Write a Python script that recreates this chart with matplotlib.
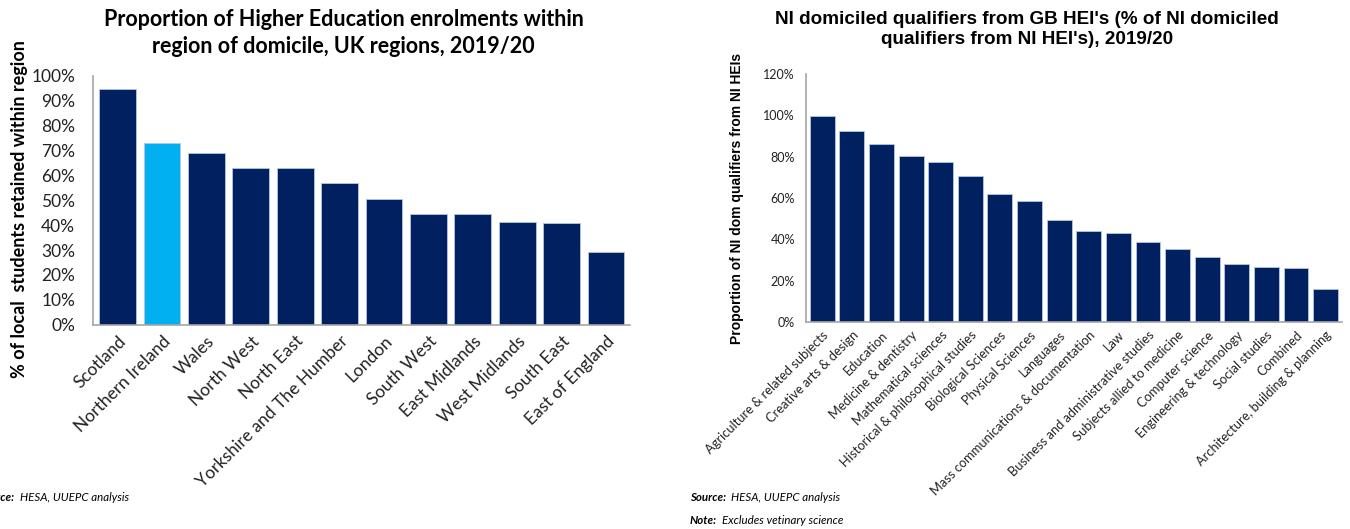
import numpy as np
import matplotlib.pyplot as plt
from matplotlib.ticker import PercentFormatter

# Regional retention (share of local students studying in home region)
regions = ['Scotland', 'Northern Ireland', 'Wales', 'North West', 'North East',
           'Yorkshire and The Humber', 'London', 'South West', 'East Midlands',
           'West Midlands', 'South East', 'East of England']
retained = [94.5, 73.1, 69.1, 62.8, 62.8, 56.9, 50.6, 44.3, 44.3, 41.4, 40.8, 29.3]

# NI domiciled qualifiers from GB HEIs as % of those from NI HEIs
subjects = ['Agriculture & related subjects', 'Creative arts & design', 'Education',
            'Medicine & dentistry', 'Mathematical sciences',
            'Historical & philosophical studies', 'Biological Sciences',
            'Physical Sciences', 'Languages', 'Mass communications & documentation',
            'Law', 'Business and administrative studies', 'Subjects allied to medicine',
            'Computer science', 'Engineering & technology', 'Social studies',
            'Combined', 'Architecture, building & planning']
gb_share = [99.8, 92.3, 86.0, 80.2, 77.3, 70.6, 61.9, 58.4, 49.2, 43.9,
            43.1, 39.0, 35.6, 31.6, 28.2, 26.9, 26.0, 15.8]

NAVY = '#002060'
SKY = '#00B0F0'
EDGE = '#B4C6E7'
CAL = ['Lato', 'DejaVu Sans']
ARIAL = ['Liberation Sans', 'DejaVu Sans']

fig = plt.figure(figsize=(13.5, 5.29), dpi=100)

# ---- left panel: UK regions ----
ax1 = fig.add_axes([0.069, 0.386, 0.398, 0.471])
colors = [SKY if r == 'Northern Ireland' else NAVY for r in regions]
x1 = np.arange(len(regions))
ax1.bar(x1, retained, width=0.83, color=colors, edgecolor=EDGE, linewidth=0.6)
ax1.set_xlim(-0.55, len(regions) - 0.45)
ax1.set_ylim(0, 100)
ax1.set_yticks(np.arange(0, 101, 10))
ax1.yaxis.set_major_formatter(PercentFormatter(decimals=0))
ax1.set_xticks(x1)
ax1.set_xticklabels(regions, rotation=45, ha='right', rotation_mode='anchor',
                    family=CAL, fontsize=12.5, color='#222222')
for lab in ax1.get_yticklabels():
    lab.set_family(CAL)
    lab.set_fontsize(12.5)
    lab.set_color('#222222')
ax1.tick_params(axis='y', length=0, pad=13)
ax1.tick_params(axis='x', length=0, pad=6)
ax1.set_ylabel('% of local  students retained within region', family=CAL,
               fontweight='bold', fontsize=13)
ax1.yaxis.set_label_coords(-0.122, 0.465)
ax1.set_title('Proportion of Higher Education enrolments within\n'
              'region of domicile, UK regions, 2019/20',
              family=CAL, fontweight='bold', fontsize=15.5, linespacing=1.4,
              x=0.466, pad=16)
for s in ['top', 'right']:
    ax1.spines[s].set_visible(False)
for s in ['left', 'bottom']:
    ax1.spines[s].set_color('#A6A6A6')
    ax1.spines[s].set_linewidth(1.2)

# ---- right panel: subjects ----
ax2 = fig.add_axes([0.597, 0.391, 0.397, 0.469])
x2 = np.arange(len(subjects))
ax2.bar(x2, gb_share, width=0.84, color=NAVY, edgecolor=EDGE, linewidth=0.6)
ax2.set_xlim(-0.55, len(subjects) - 0.45)
ax2.set_ylim(0, 120)
ax2.set_yticks(np.arange(0, 121, 20))
ax2.yaxis.set_major_formatter(PercentFormatter(decimals=0))
ax2.set_xticks(x2)
ax2.set_xticklabels(subjects, rotation=45, ha='right', rotation_mode='anchor',
                    family=CAL, fontsize=9.3, color='#222222')
for lab in ax2.get_yticklabels():
    lab.set_family(CAL)
    lab.set_fontsize(9)
    lab.set_color('#222222')
ax2.tick_params(axis='y', length=0, pad=8)
ax2.tick_params(axis='x', length=0, pad=5)
ax2.set_ylabel('Proportion of NI dom qualifiers from NI HEIs', family=ARIAL,
               fontweight='bold', fontsize=10, labelpad=14)
ax2.set_title("NI domiciled qualifiers from GB HEI's (% of NI domiciled\n"
              "qualifiers from NI HEI's), 2019/20",
              family=ARIAL, fontweight='bold', fontsize=13.6, linespacing=1.2,
              x=0.412, pad=22)
for s in ['top', 'right']:
    ax2.spines[s].set_visible(False)
for s in ['left', 'bottom']:
    ax2.spines[s].set_color('#A6A6A6')
    ax2.spines[s].set_linewidth(1.2)

# ---- footnotes ----
def footnote(x, y, head, body):
    t = fig.text(x, y, head, family=CAL, fontsize=8.3, fontweight='bold',
                 style='italic', va='center')
    fig.canvas.draw()
    bb = t.get_window_extent()
    fig.text(bb.x1 / fig.bbox.width + 0.004, y, body, family=CAL, fontsize=8.3,
             style='italic', va='center')

footnote(-0.016, 0.06, 'Source:', 'HESA, UUEPC analysis')
footnote(0.511, 0.06, 'Source:', 'HESA, UUEPC analysis')
footnote(0.511, 0.017, 'Note:', 'Excludes vetinary science')

fig.savefig('out.png', dpi=100)
